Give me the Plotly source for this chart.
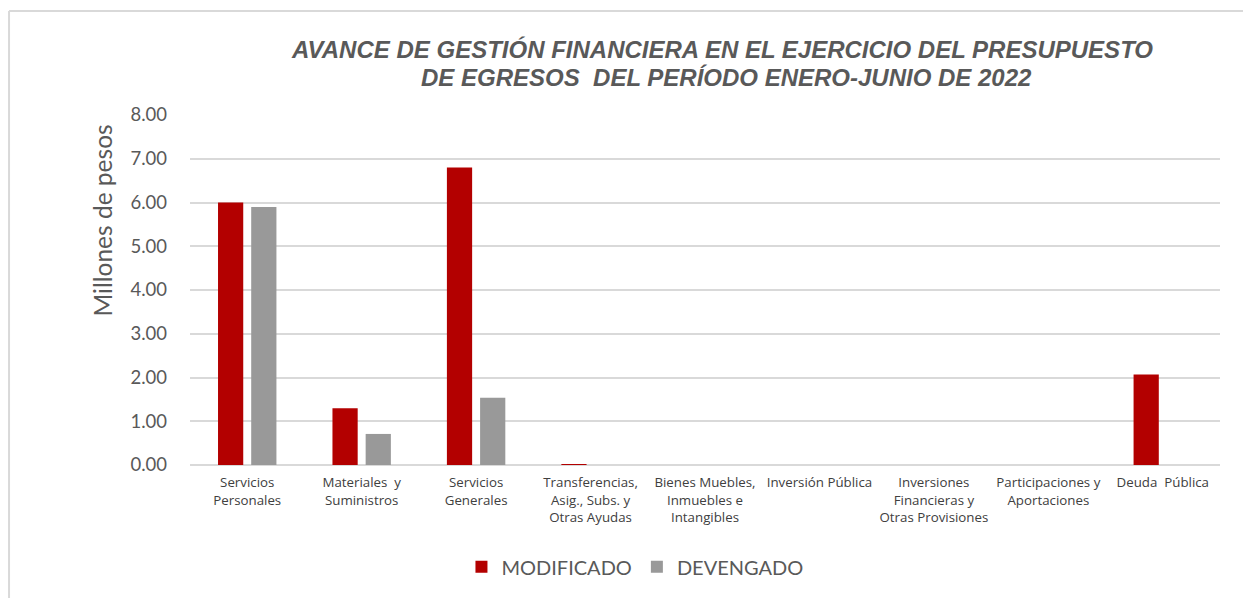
import plotly.graph_objects as go

categories = [
    "Servicios<br>Personales",
    "Materiales  y<br>Suministros",
    "Servicios<br>Generales",
    "Transferencias,<br>Asig., Subs. y<br>Otras Ayudas",
    "Bienes Muebles,<br>Inmuebles e<br>Intangibles",
    "Inversión Pública",
    "Inversiones<br>Financieras y<br>Otras Provisiones",
    "Participaciones y<br>Aportaciones",
    "Deuda  Pública",
]
modificado = [6.00, 1.30, 6.80, 0.01, 0.0, 0.0, 0.0, 0.0, 2.07]
devengado = [5.90, 0.71, 1.54, 0.0, 0.0, 0.0, 0.0, 0.0, 0.0]
y_ticks = [0, 1, 2, 3, 4, 5, 6, 7, 8]
y_tick_labels = ["0.00", "1.00", "2.00", "3.00", "4.00", "5.00", "6.00", "7.00", "8.00"]
title_lines = [
    "AVANCE DE GESTIÓN FINANCIERA EN EL EJERCICIO DEL PRESUPUESTO",
    "DE EGRESOS  DEL PERÍODO ENERO-JUNIO DE 2022",
]

fig = go.Figure()
fig.add_trace(go.Bar(name="MODIFICADO", x=categories, y=modificado,
                     marker=dict(color="#b30000", line=dict(width=0))))
fig.add_trace(go.Bar(name="DEVENGADO", x=categories, y=devengado,
                     marker=dict(color="#999999", line=dict(width=0))))

title_font = dict(family="Liberation Sans, Arial, sans-serif", size=24, color="#595959")

fig.update_layout(
    width=1251, height=598,
    margin=dict(l=182, r=39, t=107, b=141, autoexpand=False),
    paper_bgcolor="white", plot_bgcolor="white",
    barmode="group", bargap=0.42, bargroupgap=0.24,
    font=dict(family="Lato, Open Sans, sans-serif", color="#595959"),
    showlegend=True,
    legend=dict(orientation="h", x=0.432, y=-0.291, xanchor="center", yanchor="middle",
                font=dict(size=20, color="#595959"), itemwidth=30,
                traceorder="normal"),
    xaxis=dict(type="category", tickfont=dict(family="Open Sans, sans-serif", size=13.3, color="#404040"),
               showgrid=False, showline=False, ticks="", tickangle=0, ticklabelstandoff=8),
    yaxis=dict(range=[0, 8], tickvals=y_ticks, ticktext=y_tick_labels,
               tickfont=dict(size=18.5, color="#595959"),
               showgrid=True, gridcolor="#d9d9d9", gridwidth=1.5,
               zeroline=True, zerolinecolor="#d9d9d9", zerolinewidth=1.5,
               ticks="", ticklabelstandoff=22),
    annotations=[
        dict(text="<b><i>" + title_lines[0] + "</i></b>",
             xref="paper", yref="paper", x=0.5165, y=1.186, xanchor="center", yanchor="middle",
             showarrow=False, font=title_font),
        dict(text="<b><i>" + title_lines[1] + "</i></b>",
             xref="paper", yref="paper", x=0.521, y=1.106, xanchor="center", yanchor="middle",
             showarrow=False, font=title_font),
        dict(text="Millones de pesos", textangle=-90, xref="paper", yref="paper",
             x=-0.085, y=0.70, xanchor="center", yanchor="middle", showarrow=False,
             font=dict(size=24.5, color="#595959")),
    ],
    shapes=[
        dict(type="line", xref="paper", yref="paper", x0=-0.1757, x1=1.1, y0=1.297, y1=1.297,
             line=dict(color="#d9d9d9", width=2)),
        dict(type="line", xref="paper", yref="paper", x0=-0.1757, x1=-0.1757, y0=1.297, y1=-0.5,
             line=dict(color="#d9d9d9", width=2)),
    ],
)

fig.write_html("out.html")
